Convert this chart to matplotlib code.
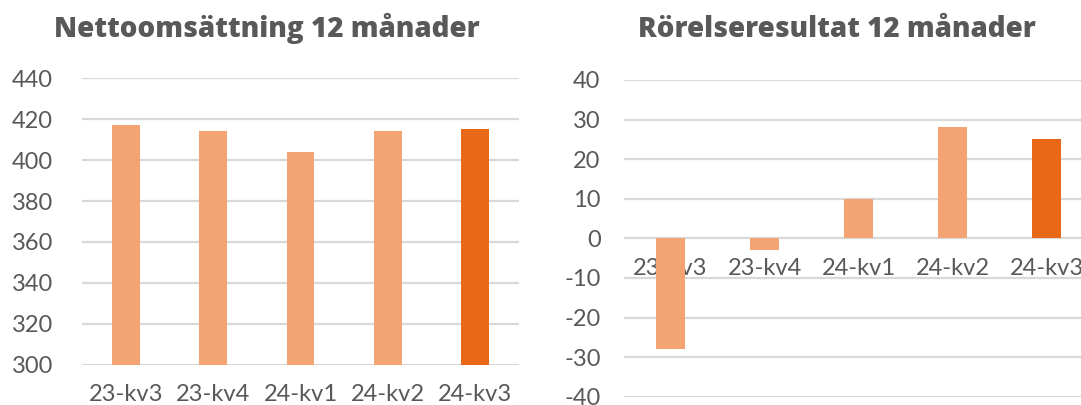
import matplotlib
matplotlib.use("Agg")
import matplotlib.pyplot as plt

# Quarter labels and values
quarters = ["23-kv3", "23-kv4", "24-kv1", "24-kv2", "24-kv3"]
net_sales = [417, 414, 404, 414, 415]
operating_result = [-28, -3, 10, 28, 25]

LIGHT = "#F4A373"
DARK = "#E96817"
TEXT = "#595959"
GRID = "#D9D9D9"

plt.rcParams["font.family"] = ["Lato", "DejaVu Sans"]
plt.rcParams["axes.unicode_minus"] = False

bar_colors = [LIGHT] * (len(quarters) - 1) + [DARK]
title_font = dict(family=["Open Sans", "DejaVu Sans"], fontsize=20, fontweight=800, color=TEXT)


def style_axis(ax):
    for side in ["top", "right", "left", "bottom"]:
        ax.spines[side].set_visible(False)
    ax.yaxis.grid(True, color=GRID, linewidth=1.6)
    ax.set_axisbelow(True)
    ax.tick_params(axis="both", length=0, colors=TEXT, labelsize=17)
    ax.tick_params(axis="x", pad=14)
    ax.set_xlim(-0.5, len(quarters) - 0.5)


fig = plt.figure(figsize=(10.81, 4.05), dpi=100)
x = list(range(len(quarters)))

# Left: net sales (axis starts at 300)
ax1 = fig.add_axes([0.0761, 0.0993, 0.404, 0.7074])
ax1.bar(x, [v - 300 for v in net_sales], bottom=300, width=0.317, color=bar_colors)
ax1.set_ylim(300, 440)
ax1.set_yticks(range(300, 441, 20))
ax1.set_xticks(x)
ax1.set_xticklabels(quarters)
style_axis(ax1)
ax1.tick_params(axis="y", pad=21)
fig.text(0.2465, 0.931, "Nettoomsättning 12 månader", ha="center", va="center", **title_font)

# Right: operating result, category labels sit on the zero line
ax2 = fig.add_axes([0.5768, 0.0205, 0.4352, 0.782])
ax2.bar(x, operating_result, width=0.308, color=bar_colors)
ax2.set_ylim(-40, 40)
ax2.set_yticks(range(-40, 41, 10))
ax2.set_xticks(x)
ax2.set_xticklabels(quarters)
style_axis(ax2)
ax2.spines["bottom"].set_position(("data", 0))
ax2.tick_params(axis="y", pad=16.5)
fig.text(0.774, 0.928, "Rörelseresultat 12 månader", ha="center", va="center", **title_font)

fig.savefig("out.png", dpi=100)
